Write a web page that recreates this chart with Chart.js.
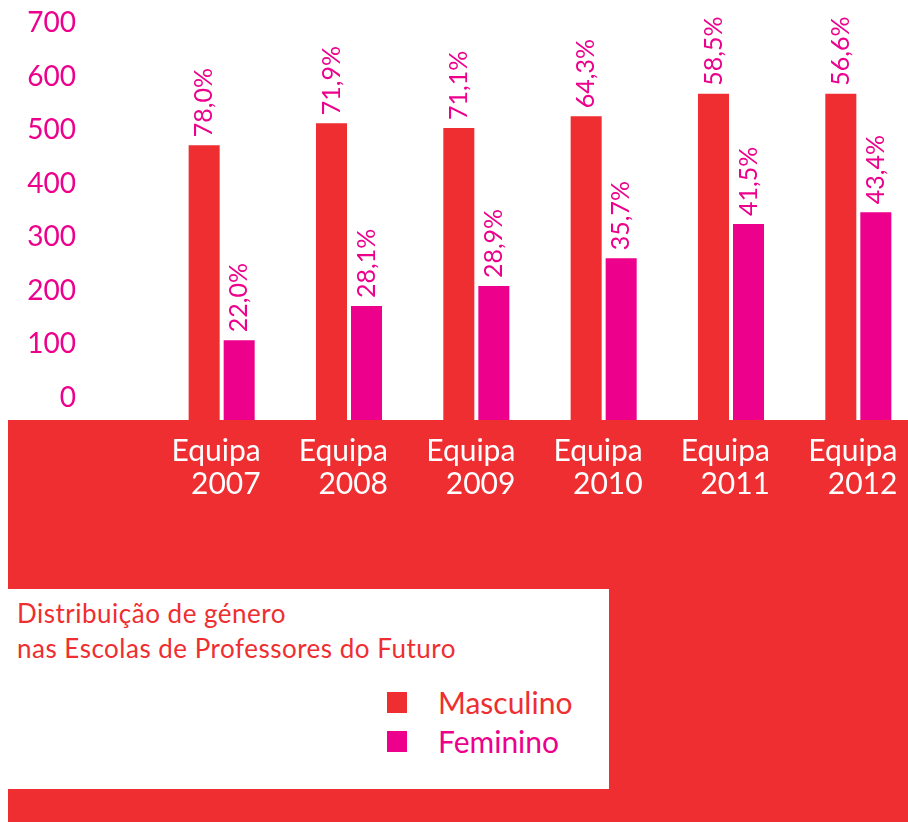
<!DOCTYPE html>
<html lang="pt">
<head>
<meta charset="utf-8">
<title>Distribuição de género</title>
<script src="https://cdn.jsdelivr.net/npm/chart.js@4.4.1/dist/chart.umd.min.js"></script>
<style>
    body {
        margin: 0;
        width: 908px;
        height: 822px;
        overflow: hidden;
        position: relative;
        background: #ffffff;
        font-family: 'Lato', 'Open Sans', sans-serif;
    }
    #band {
        position: absolute;
        left: 8px;
        top: 420px;
        width: 900px;
        height: 402px;
        background: #ee2e31;
    }
    #chart-wrap {
        position: absolute;
        left: 0;
        top: 0;
        width: 922px;
        height: 520px;
    }
    #info-box {
        position: absolute;
        left: 8px;
        top: 589px;
        width: 601px;
        height: 200px;
        background: #ffffff;
    }
    #title {
        position: absolute;
        left: 9px;
        top: 7px;
        font-size: 26px;
        letter-spacing: 0.5px;
        line-height: 35px;
        color: #ee2e31;
        white-space: nowrap;
    }
    .legend-row {
        position: absolute;
        left: 379px;
        height: 38px;
        font-size: 30px;
        line-height: 38px;
        white-space: nowrap;
    }
    .legend-box {
        position: absolute;
        left: 0;
        top: 9px;
        width: 20px;
        height: 21px;
    }
    .legend-text {
        position: absolute;
        left: 51px;
        top: 0;
    }
</style>
</head>
<body>
<div id="band"></div>
<div id="chart-wrap"><canvas id="genderChart"></canvas></div>
<div id="info-box">
    <div id="title">Distribuição de género<br>nas Escolas de Professores do Futuro</div>
    <div id="legend"></div>
</div>

<script>
// Datos del gráfico
const categories = [['Equipa', '2007'], ['Equipa', '2008'], ['Equipa', '2009'],
                    ['Equipa', '2010'], ['Equipa', '2011'], ['Equipa', '2012']];
const masculino = [513, 554, 545, 567, 609, 609];
const feminino = [149, 213, 250, 302, 366, 388];
const masculinoPct = ['78,0%', '71,9%', '71,1%', '64,3%', '58,5%', '56,6%'];
const femininoPct = ['22,0%', '28,1%', '28,9%', '35,7%', '41,5%', '43,4%'];
const seriesNames = ['Masculino', 'Feminino'];
const yTicks = [0, 100, 200, 300, 400, 500, 600, 700];

const RED = '#ee2e31';
const MAGENTA = '#ec008c';

// Etiquetas de porcentaje rotadas encima de cada barra
const pctLabels = {
    id: 'pctLabels',
    afterDatasetsDraw(chart) {
        const ctx = chart.ctx;
        const texts = [masculinoPct, femininoPct];
        chart.data.datasets.forEach(function(ds, di) {
            chart.getDatasetMeta(di).data.forEach(function(bar, i) {
                ctx.save();
                ctx.translate(bar.x, bar.y - 8);
                ctx.rotate(-Math.PI / 2);
                ctx.font = '25px Lato';
                ctx.fillStyle = MAGENTA;
                ctx.textAlign = 'left';
                ctx.textBaseline = 'middle';
                ctx.fillText(texts[di][i], 0, 0);
                ctx.restore();
            });
        });
    }
};

const chart = new Chart(document.getElementById('genderChart'), {
    type: 'bar',
    data: {
        labels: categories,
        datasets: [
            { label: seriesNames[0], data: masculino, backgroundColor: RED },
            { label: seriesNames[1], data: feminino, backgroundColor: MAGENTA }
        ]
    },
    options: {
        responsive: true,
        maintainAspectRatio: false,
        animation: false,
        categoryPercentage: 0.55,
        barPercentage: 0.886,
        layout: { padding: { top: 45, left: 0, right: 0, bottom: 0 } },
        plugins: {
            legend: { display: false },
            tooltip: { enabled: false }
        },
        scales: {
            x: {
                grid: { display: false, drawTicks: false },
                border: { display: false },
                ticks: {
                    color: '#ffffff',
                    font: { family: 'Lato', size: 30, lineHeight: 1.1 },
                    align: 'end',
                    labelOffset: 39,
                    padding: 15,
                    maxRotation: 0,
                    autoSkip: false
                },
                afterFit: function(scale) { scale.height = 100; }
            },
            y: {
                min: yTicks[0],
                max: yTicks[yTicks.length - 1],
                // marcas invisibles: solo empujan las etiquetas hacia la izquierda
                grid: { display: false, drawTicks: true, tickLength: 79 },
                border: { display: false },
                afterBuildTicks: function(scale) {
                    scale.ticks = yTicks.map(function(v) { return { value: v }; });
                },
                ticks: {
                    color: MAGENTA,
                    font: { family: 'Lato', size: 28 },
                    padding: 3,
                    labelOffset: -22
                },
                afterFit: function(scale) { scale.width = 158; }
            }
        }
    },
    plugins: [pctLabels]
});

// Leyenda en el recuadro blanco
const legendColors = [RED, MAGENTA];
const legendTops = [94, 133];
const legend = document.getElementById('legend');
seriesNames.forEach(function(name, i) {
    const row = document.createElement('div');
    row.className = 'legend-row';
    row.style.top = legendTops[i] + 'px';
    row.innerHTML = '<span class="legend-box" style="background:' + legendColors[i] + '"></span>' +
        '<span class="legend-text" style="color:' + legendColors[i] + '">' + name + '</span>';
    legend.appendChild(row);
});
</script>
</body>
</html>
